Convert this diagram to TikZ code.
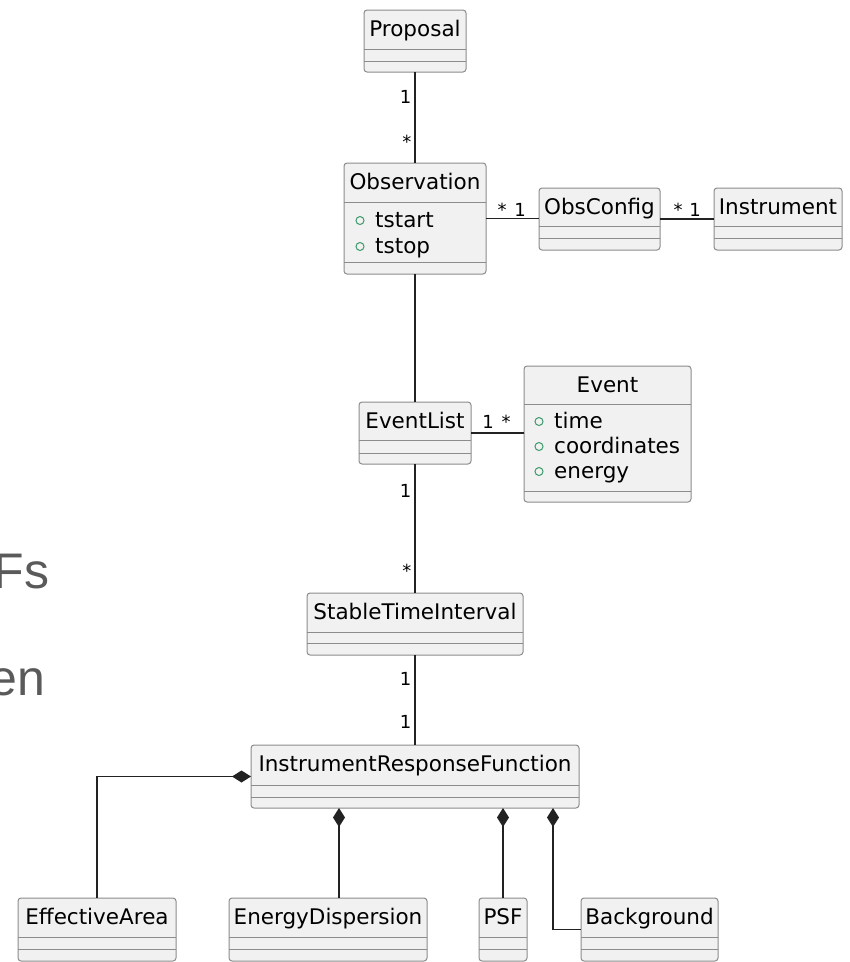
\documentclass[tikz,border=0pt]{standalone}
\usepackage{fontspec}
\setmainfont{DejaVu Sans}
\newfontfamily\slidefont{Liberation Sans}
\usetikzlibrary{arrows.meta}
\definecolor{boxfill}{HTML}{F1F1F1}
\definecolor{boxline}{HTML}{8C8C8C}
\definecolor{connline}{HTML}{222222}
\definecolor{iconcol}{HTML}{3A9A6A}
\definecolor{slidegray}{HTML}{5A5A5A}

\tikzset{
  classbox/.style={draw=boxline, fill=boxfill, rounded corners=3pt, line width=1pt, inner sep=0pt, outer sep=0pt},
  divline/.style={draw=boxline, line width=1pt},
  titletext/.style={anchor=base, inner sep=0pt, font=\fontsize{21.5}{26}\selectfont},
  attrtext/.style={anchor=base west, inner sep=0pt, font=\fontsize{21.5}{26}\selectfont},
  attricon/.style={circle, draw=iconcol, line width=1pt, minimum size=8pt, inner sep=0pt},
  multlabel/.style={inner sep=0pt, font=\fontsize{18}{22}\selectfont},
  connector/.style={draw=connline, line width=1.5pt},
  composition/.style={connector, {Diamond[length=19pt,width=12pt]}-},
  slidetext/.style={anchor=base east, inner sep=0pt, text=slidegray, font=\slidefont\fontsize{50}{60}\selectfont}
}

% name, x1, y1, x2, y2, divider1, divider2, title
\newcommand{\umlclass}[8]{%
  \node[classbox, minimum width={(#4)-(#2)}, minimum height={(#5)-(#3)}] (#1) at ({((#2)+(#4))/2},{((#3)+(#5))/2}) {};
  \draw[divline] (#2,#6) -- (#4,#6);
  \draw[divline] (#2,#7) -- (#4,#7);
  \node[titletext] (#1-t) at ({((#2)+(#4))/2},{(#3)+26.5}) {#8};
}
% name, icon x, baseline, text
\newcommand{\umlattr}[4]{%
  \node[attricon] (#1-i) at (#2,{(#3)-6.5}) {};
  \node[attrtext] (#1) at ({(#2)+15},#3) {#4};
}

\begin{document}
\begin{tikzpicture}[x=1pt,y=-1pt]
\useasboundingbox (0,0) rectangle (850,962);

% slide text fragments at the left edge
\node[slidetext] (slideA) at (49.5,588) {Fs};
\node[slidetext] (slideB) at (45.5,695) {en};

% classes
\umlclass{prop}{364}{10}{466}{72}{49}{61}{Proposal}
\umlclass{obs}{344}{163}{486}{274}{202}{262}{Observation}
\umlattr{tstart}{360}{227}{tstart}
\umlattr{tstop}{360}{253}{tstop}
\umlclass{oc}{539}{188}{660}{250}{226}{238}{ObsConfig}
\umlclass{inst}{714}{188}{842}{250}{226}{238}{Instrument}
\umlclass{el}{359}{402}{471}{464}{440}{453}{EventList}
\umlclass{ev}{524}{366}{691}{502}{404}{491}{Event}
\umlattr{time}{539}{428}{time}
\umlattr{coords}{539}{453}{coordinates}
\umlattr{energy}{539}{478}{energy}
\umlclass{sti}{307}{593}{523}{655}{632}{643}{StableTimeInterval}
\umlclass{irf}{251}{745}{579}{808}{785}{797}{InstrumentResponseFunction}
\umlclass{ea}{18}{898}{176}{961}{937}{949}{EffectiveArea}
\umlclass{ed}{229}{898}{427}{961}{937}{949}{EnergyDispersion}
\umlclass{psf}{479}{898}{527}{961}{937}{949}{PSF}
\umlclass{bg}{581}{898}{718}{961}{937}{949}{Background}

% associations
\draw[connector] (prop.south) -- (prop.south |- obs.north);
\draw[connector] (obs.east) -- (obs.east -| oc.west);
\draw[connector] (oc.east) -- (inst.west);
\draw[connector] (obs.south) -- (obs.south |- el.north);
\draw[connector] (el.east) -- (el.east -| ev.west);
\draw[connector] (el.south) -- (el.south |- sti.north);
\draw[connector] (sti.south) -- (sti.south |- irf.north);

% compositions
\draw[composition] (irf.west) -| (ea.north);
\draw[composition] ([xshift=-76pt]irf.south) -- ([xshift=11pt]ed.north);
\draw[composition] (irf.south -| psf.north) -- (psf.north);
\draw[composition] ([xshift=138pt]irf.south) |- (bg.west);

% multiplicities
\node[multlabel, anchor=base east] (m1) at (411.5,103.5) {1};
\node[multlabel, anchor=base east] (m2) at (411.5,148) {*};
\node[multlabel, anchor=base] (m3) at (502,216) {*};
\node[multlabel, anchor=base] (m4) at (520,216) {1};
\node[multlabel, anchor=base] (m5) at (678,216) {*};
\node[multlabel, anchor=base] (m6) at (695,216) {1};
\node[multlabel, anchor=base] (m7) at (488,428) {1};
\node[multlabel, anchor=base] (m8) at (506,428) {*};
\node[multlabel, anchor=base east] (m9) at (411.5,497.5) {1};
\node[multlabel, anchor=base east] (m10) at (411.5,577) {*};
\node[multlabel, anchor=base east] (m11) at (411.5,685.5) {1};
\node[multlabel, anchor=base east] (m12) at (411.5,728.5) {1};
\end{tikzpicture}
\end{document}
